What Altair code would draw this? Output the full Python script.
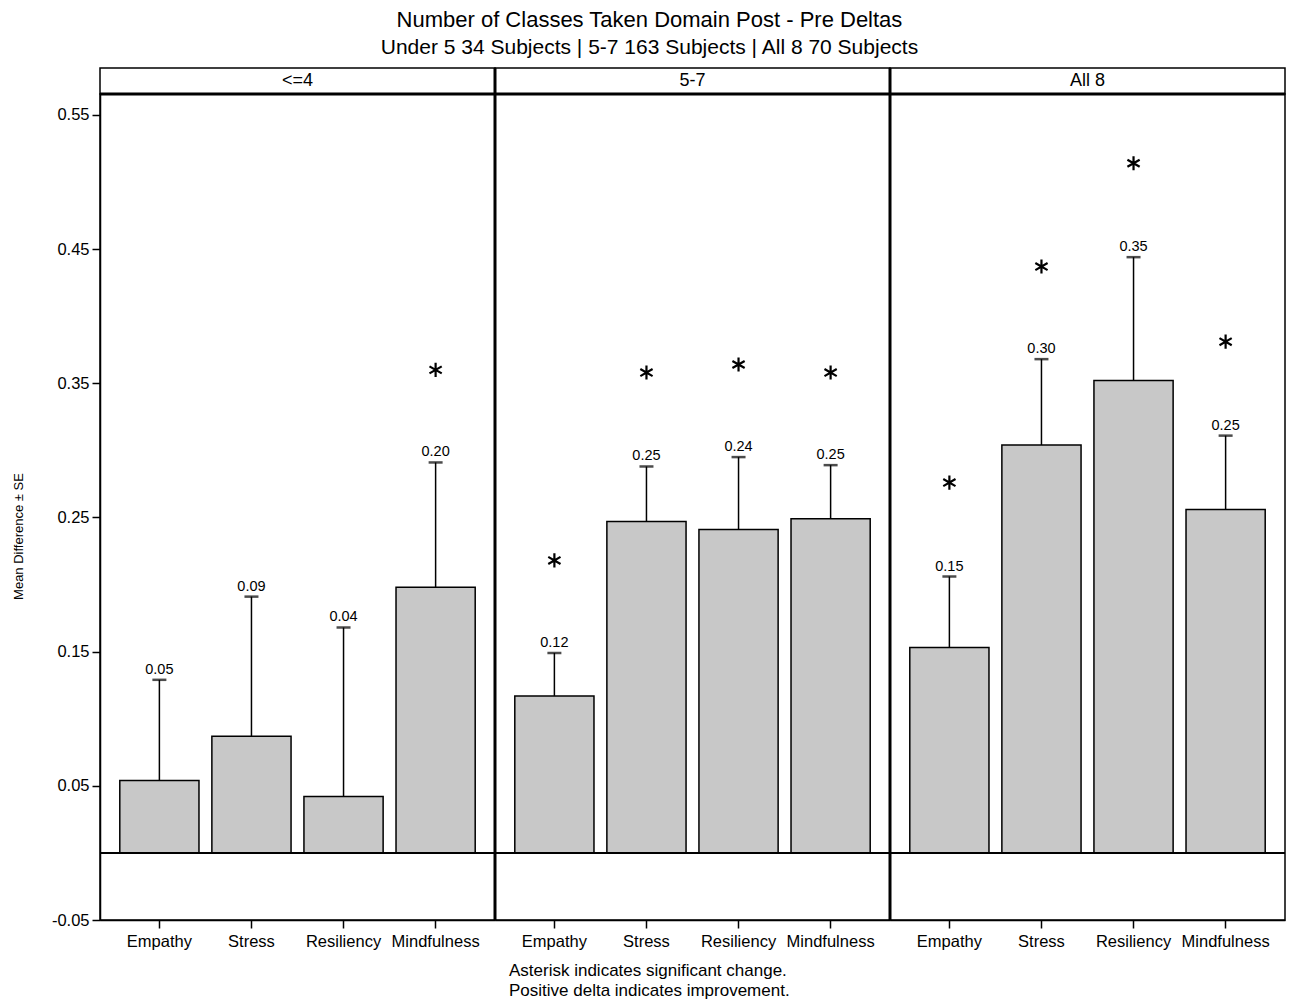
import altair as alt
import pandas as pd

panel_order = ["<=4", "5-7", "All 8"]
domain_order = ["Empathy", "Stress", "Resiliency", "Mindfulness"]

panels = ["<=4"] * 4 + ["5-7"] * 4 + ["All 8"] * 4
domains = domain_order * 3
means = [0.054, 0.087, 0.042, 0.198,
         0.117, 0.247, 0.241, 0.249,
         0.153, 0.304, 0.352, 0.256]
upper = [0.129, 0.191, 0.168, 0.291,
         0.149, 0.288, 0.295, 0.289,
         0.206, 0.368, 0.444, 0.311]
labels = ["0.05", "0.09", "0.04", "0.20",
          "0.12", "0.25", "0.24", "0.25",
          "0.15", "0.30", "0.35", "0.25"]
stars = [None, None, None, 0.360,
         0.218, 0.358, 0.364, 0.358,
         0.276, 0.437, 0.514, 0.381]
y_ticks = [-0.05, 0.05, 0.15, 0.25, 0.35, 0.45, 0.55]
footnote = ["Asterisk indicates significant change.",
            "Positive delta indicates improvement."]

df = pd.DataFrame({"panel": panels, "domain": domains, "mean": means,
                   "upper": upper, "label": labels, "star": stars})

PW, PH = 395, 826
FONT = "Liberation Sans"
star_path = "M0,-1L0,1M-0.866,-0.5L0.866,0.5M-0.866,0.5L0.866,-0.5"
yscale = alt.Scale(domain=[-0.05, 0.5656], nice=False, zero=False)


def make_panel(p, first):
    base = alt.Chart(df).transform_filter(alt.datum.panel == p)
    xenc = alt.X("domain:N", sort=domain_order,
                 scale=alt.Scale(paddingInner=0.14, paddingOuter=0.215),
                 axis=alt.Axis(title=None, labelAngle=0, labelFontSize=16.5,
                               tickSize=8, tickWidth=1.5, labelPadding=5,
                               domainWidth=1.5))
    if first:
        yaxis = alt.Axis(values=y_ticks, title="Mean Difference ± SE",
                         labelExpr="datum.value < 0 ? '-' + format(-datum.value, '.2f') : format(datum.value, '.2f')",
                         titleFontSize=13, titleFontWeight="normal", titlePadding=26,
                         titleY=442,
                         labelFontSize=16.5, tickSize=8, tickWidth=1.5, domainWidth=1.5,
                         labelPadding=3, grid=False)
    else:
        yaxis = None
    xs = alt.X("domain:N", sort=domain_order)
    bars = base.mark_bar(fill="#c8c8c8", stroke="black", strokeWidth=1.5).encode(
        x=xenc, y=alt.Y("mean:Q", scale=yscale, axis=yaxis), y2=alt.datum(0))
    zero = base.mark_rule(color="black", strokeWidth=1.5).encode(y=alt.datum(0))
    err = base.mark_rule(color="black", strokeWidth=1.5).encode(x=xs, y="mean:Q", y2="upper:Q")
    cap = base.mark_tick(color="black", size=14, thickness=2.5, orient="horizontal").encode(
        x=xs, y="upper:Q")
    lab = base.mark_text(baseline="bottom", dy=-3, fontSize=14.5, color="black").encode(
        x=xs, y="upper:Q", text="label:N")
    star = base.transform_filter("datum.star != null").mark_point(
        shape=star_path, size=200, stroke="black", strokeWidth=2.2, filled=False,
        opacity=1).encode(x=xs, y="star:Q")
    one = base.transform_filter(alt.datum.domain == "Empathy")
    head_box = one.mark_rect(fill="white", stroke="black", strokeWidth=1.5).encode(
        x=alt.value(0), x2=alt.value(PW), y=alt.value(-26), y2=alt.value(0))
    head_line = one.mark_rule(color="black", strokeWidth=3).encode(
        x=alt.value(0), x2=alt.value(PW), y=alt.value(0))
    head_txt = one.mark_text(fontSize=18, color="black", baseline="middle").encode(
        x=alt.value(PW / 2), y=alt.value(-13), text="panel:N")
    layers = [bars, zero, err, cap, lab, star, head_box, head_line, head_txt]
    if not first:
        sep = one.mark_rule(color="black", strokeWidth=3).encode(
            x=alt.value(0), y=alt.value(-26), y2=alt.value(PH))
        layers.append(sep)
    if p == "5-7":
        foot = one.mark_text(align="left", baseline="top", fontSize=17, lineHeight=19.5,
                             color="black").encode(
            x=alt.value(14), y=alt.value(PH + 43), text=alt.value(footnote))
        layers.append(foot)
    return alt.layer(*layers).properties(width=PW, height=PH)


chart = alt.hconcat(*[make_panel(p, i == 0) for i, p in enumerate(panel_order)],
                    spacing=0, bounds="flush").properties(
    title=alt.TitleParams("Number of Classes Taken Domain Post - Pre Deltas",
                          subtitle="Under 5 34 Subjects | 5-7 163 Subjects | All 8 70 Subjects",
                          fontSize=22, subtitleFontSize=21, fontWeight="normal",
                          color="black", subtitleColor="black", anchor="middle",
                          subtitlePadding=5, offset=7, font=FONT, subtitleFont=FONT),
    padding={"left": 3, "top": 0, "right": 0, "bottom": 0},
).configure(font=FONT).configure_view(stroke="black", strokeWidth=1.5).configure_axis(
    labelColor="black", titleColor="black", tickColor="black", domainColor="black",
    labelFont=FONT, titleFont=FONT).resolve_scale(y="shared")

chart.save("out.html", embed_options={"renderer": "svg", "actions": False})
